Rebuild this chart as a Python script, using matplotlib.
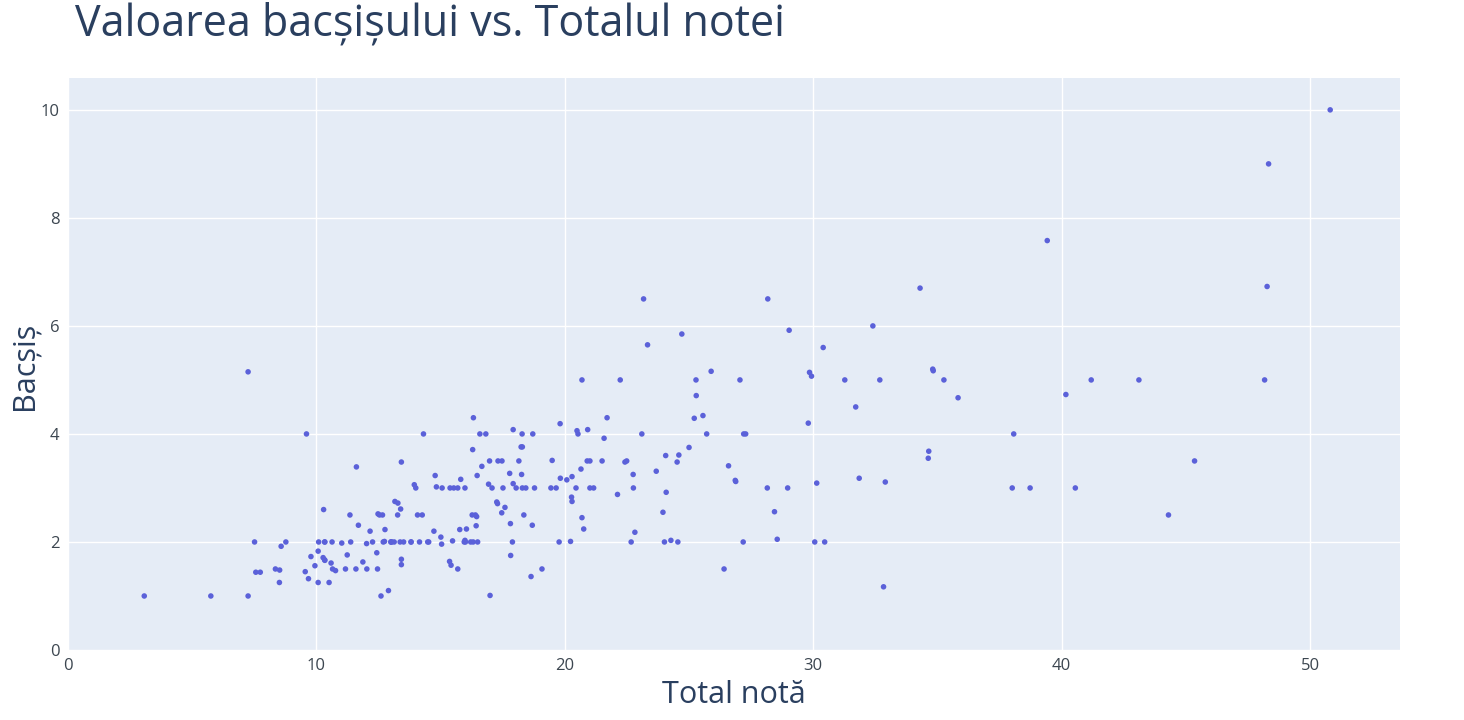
import numpy as np
import matplotlib.pyplot as plt

total_bill = [16.99, 10.34, 21.01, 23.68, 24.59, 25.29, 8.77, 26.88, 15.04, 14.78,
              10.27, 35.26, 15.42, 18.43, 14.83, 21.58, 10.33, 16.29, 16.97, 20.65,
              17.92, 20.29, 15.77, 39.42, 19.82, 17.81, 13.37, 12.69, 21.70, 19.65,
              9.55, 18.35, 15.06, 20.69, 17.78, 24.06, 16.31, 16.93, 18.69, 31.27,
              16.04, 17.46, 13.94, 9.68, 30.40, 18.29, 22.23, 32.40, 28.55, 18.04,
              12.54, 10.29, 34.81, 9.94, 25.56, 19.49, 38.01, 26.41, 11.24, 48.27,
              20.29, 13.81, 11.02, 18.29, 17.59, 20.08, 16.45, 3.07, 20.23, 15.01,
              12.02, 17.07, 26.86, 25.28, 14.73, 10.51, 17.92, 27.20, 22.76, 17.29,
              19.44, 16.66, 10.07, 32.68, 15.98, 34.83, 13.03, 18.28, 24.71, 21.16,
              28.97, 22.49, 5.75, 16.32, 22.75, 40.17, 27.28, 12.03, 21.01, 12.46,
              11.35, 15.38, 44.30, 22.42, 20.92, 15.36, 20.49, 25.21, 18.24, 14.31,
              14.00, 7.25, 38.07, 23.95, 25.71, 17.31, 29.93, 10.65, 12.43, 24.08,
              11.69, 13.42, 14.26, 15.95, 12.48, 29.80, 8.52, 14.52, 11.38, 22.82,
              19.08, 20.27, 11.17, 12.26, 18.26, 8.51, 10.33, 14.15, 16.00, 13.16,
              17.47, 34.30, 41.19, 27.05, 16.43, 8.35, 18.64, 11.87, 9.78, 7.51,
              14.07, 13.13, 17.26, 24.55, 19.77, 29.85, 48.17, 25.00, 13.39, 16.49,
              21.50, 12.66, 16.21, 13.81, 17.51, 24.52, 20.76, 31.71, 10.59, 10.63,
              50.81, 15.81, 7.25, 31.85, 16.82, 32.90, 17.89, 14.48, 9.60, 34.63,
              34.65, 23.33, 45.35, 23.17, 40.55, 20.69, 20.90, 30.46, 18.15, 23.10,
              15.69, 19.81, 28.44, 15.48, 16.58, 7.56, 10.34, 43.11, 13.00, 13.51,
              18.71, 12.74, 13.00, 16.40, 20.53, 16.47, 26.59, 38.73, 24.27, 12.76,
              30.06, 25.89, 48.33, 13.27, 28.17, 12.90, 28.15, 11.59, 7.74, 30.14,
              12.16, 13.42, 8.58, 15.98, 13.42, 16.27, 10.09, 20.45, 13.28, 22.12,
              24.01, 15.69, 11.61, 10.77, 15.53, 10.07, 12.60, 32.83, 35.83, 29.03,
              27.18, 22.67, 17.82, 18.78]
tip = [1.01, 1.66, 3.50, 3.31, 3.61, 4.71, 2.00, 3.12, 1.96, 3.23,
       1.71, 5.00, 1.57, 3.00, 3.02, 3.92, 1.67, 3.71, 3.50, 3.35,
       4.08, 2.75, 2.23, 7.58, 3.18, 2.34, 2.00, 2.00, 4.30, 3.00,
       1.45, 2.50, 3.00, 2.45, 3.27, 3.60, 2.00, 3.07, 2.31, 5.00,
       2.24, 2.54, 3.06, 1.32, 5.60, 3.00, 5.00, 6.00, 2.05, 3.00,
       2.50, 2.60, 5.20, 1.56, 4.34, 3.51, 3.00, 1.50, 1.76, 6.73,
       3.21, 2.00, 1.98, 3.76, 2.64, 3.15, 2.47, 1.00, 2.01, 2.09,
       1.97, 3.00, 3.14, 5.00, 2.20, 1.25, 3.08, 4.00, 3.00, 2.71,
       3.00, 3.40, 1.83, 5.00, 2.03, 5.17, 2.00, 4.00, 5.85, 3.00,
       3.00, 3.50, 1.00, 4.30, 3.25, 4.73, 4.00, 1.50, 3.00, 1.50,
       2.50, 3.00, 2.50, 3.48, 4.08, 1.64, 4.06, 4.29, 3.76, 4.00,
       3.00, 1.00, 4.00, 2.55, 4.00, 3.50, 5.07, 1.50, 1.80, 2.92,
       2.31, 1.68, 2.50, 2.00, 2.52, 4.20, 1.48, 2.00, 2.00, 2.18,
       1.50, 2.83, 1.50, 2.00, 3.25, 1.25, 2.00, 2.00, 2.00, 2.75,
       3.50, 6.70, 5.00, 5.00, 2.30, 1.50, 1.36, 1.63, 1.73, 2.00,
       2.50, 2.00, 2.74, 2.00, 2.00, 5.14, 5.00, 3.75, 2.61, 2.00,
       3.50, 2.50, 2.00, 2.00, 3.00, 3.48, 2.24, 4.50, 1.61, 2.00,
       10.00, 3.16, 5.15, 3.18, 4.00, 3.11, 2.00, 2.00, 4.00, 3.55,
       3.68, 5.65, 3.50, 6.50, 3.00, 5.00, 3.50, 2.00, 3.50, 4.00,
       1.50, 4.19, 2.56, 2.02, 4.00, 1.44, 2.00, 5.00, 2.00, 2.00,
       4.00, 2.01, 2.00, 2.50, 4.00, 3.23, 3.41, 3.00, 2.03, 2.23,
       2.00, 5.16, 9.00, 2.50, 6.50, 1.10, 3.00, 1.50, 1.44, 3.09,
       2.20, 3.48, 1.92, 3.00, 1.58, 2.50, 2.00, 3.00, 2.72, 2.88,
       2.00, 3.00, 3.39, 1.47, 3.00, 1.25, 1.00, 1.17, 4.67, 5.92,
       2.00, 2.00, 1.75, 3.00]

title = "Valoarea bacșișului vs. Totalul notei"
x_label = "Total notă"
y_label = "Bacșiș"
x_ticks = [0, 10, 20, 30, 40, 50]
y_ticks = [0, 2, 4, 6, 8, 10]

plt.rcParams['font.family'] = ['Open Sans', 'DejaVu Sans']
txt = '#2a3f5f'

fig = plt.figure(figsize=(14.64, 7.2), dpi=100)
ax = fig.add_axes([68 / 1464, 70 / 720, 1332 / 1464, 572 / 720])
ax.set_facecolor('#e5ecf6')
ax.scatter(total_bill, tip, s=16, c='#5b61d9', edgecolors='none', zorder=3)

ax.set_xlim(0, 53.62)
ax.set_ylim(0, 10.59)
ax.set_xticks(x_ticks)
ax.set_yticks(y_ticks)
ax.grid(True, color='white', linewidth=1.0, zorder=0)
ax.set_axisbelow(True)
for s in ax.spines.values():
    s.set_visible(False)
ax.tick_params(length=0, labelsize=12, labelcolor='#3c4650', pad=6)

ax.set_xlabel(x_label, fontsize=22, color=txt, labelpad=4)
# y title placed by hand so it is not clipped at the left edge
fig.text(24 / 1464, 1 - 366 / 720, y_label, fontsize=22, color=txt,
         rotation=90, va='center', ha='center')
fig.text(75 / 1464, 1 - 24 / 720, title, fontsize=31, color=txt, va='center', ha='left')

fig.savefig('out.png', dpi=100)
